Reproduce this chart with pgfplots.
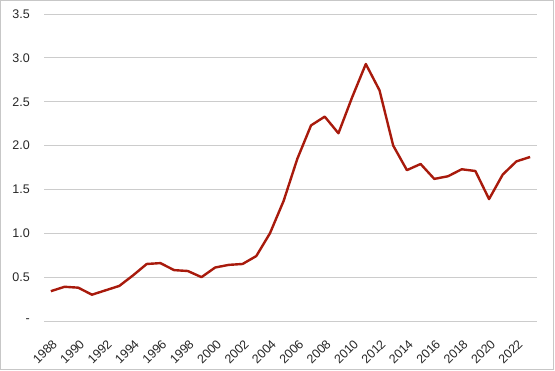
\documentclass[border=0pt]{standalone}
\usepackage{fontspec}
\setmainfont{Liberation Sans}
\usepackage{pgfplots}
\pgfplotsset{compat=1.18}
\definecolor{linered}{RGB}{168,26,12}
\begin{document}
\begin{tikzpicture}[x=1pt,y=1pt]
\useasboundingbox (0,0) rectangle (555,370);
\draw[black!22, line width=1.2pt] (0.6,0.6) rectangle (553.8,369.4);
\begin{axis}[
  at={(44pt,49pt)}, anchor=south west,
  scale only axis, width=493pt, height=307pt,
  xmin=1987.5, xmax=2023.5, ymin=0, ymax=3.5,
  axis line style={draw=none},
  ymajorgrids, grid style={color=black!20, line width=0.9pt},
  major tick length=0pt,
  ytick={0,0.5,1,1.5,2,2.5,3,3.5},
  yticklabels={-,0.5,1.0,1.5,2.0,2.5,3.0,3.5},
  xtick={1988,1990,...,2022},
  xticklabels={1988,1990,1992,1994,1996,1998,2000,2002,2004,2006,2008,2010,2012,2014,2016,2018,2020,2022},
  tick label style={font=\fontsize{12.5}{14}\selectfont, text=black!85},
  xticklabel style={rotate=45, anchor=north east, inner sep=0pt, yshift=-13pt, xshift=-12pt},
  yticklabel style={anchor=east, inner sep=0pt, xshift=-14pt},
  /pgf/number format/assume math mode=true,
  clip=false,
]
\addplot[color=linered, line width=2.4pt, line join=round, mark=none] coordinates {
(1988,0.34) (1989,0.39) (1990,0.38) (1991,0.30) (1992,0.35) (1993,0.40)
(1994,0.52) (1995,0.65) (1996,0.66) (1997,0.58) (1998,0.57) (1999,0.50)
(2000,0.61) (2001,0.64) (2002,0.65) (2003,0.74) (2004,1.00) (2005,1.37)
(2006,1.85) (2007,2.23) (2008,2.33) (2009,2.14) (2010,2.55) (2011,2.93)
(2012,2.63) (2013,2.00) (2014,1.72) (2015,1.79) (2016,1.62) (2017,1.65)
(2018,1.73) (2019,1.71) (2020,1.39) (2021,1.67) (2022,1.82) (2023,1.87)
};
\end{axis}
\end{tikzpicture}
\end{document}
